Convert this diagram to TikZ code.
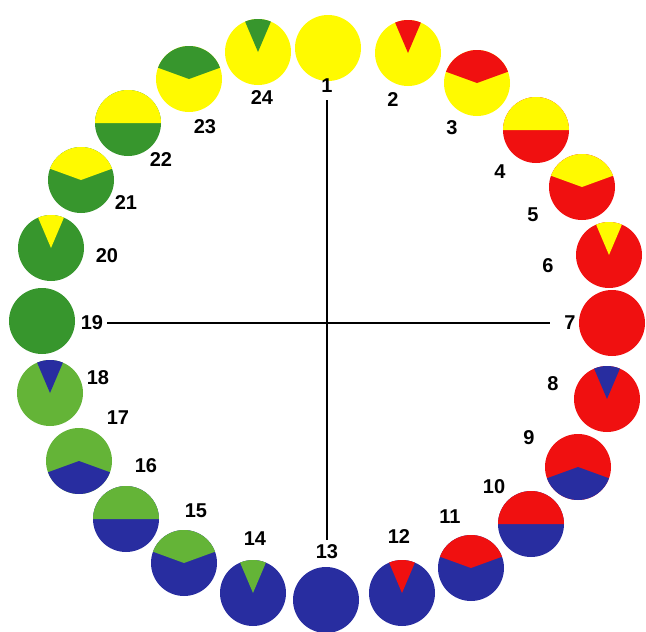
\documentclass[tikz,border=0pt]{standalone}
\usepackage{fontspec}
\setmainfont{Liberation Sans}
\usetikzlibrary{calc}
\definecolor{ylw}{RGB}{255,250,0}
\definecolor{rd}{RGB}{240,16,16}
\definecolor{grn}{RGB}{55,150,45}
\definecolor{grnlt}{RGB}{100,180,55}
\definecolor{blu}{RGB}{40,45,160}

\begin{document}
\begin{tikzpicture}[x=1pt, y=1pt,
    disc/.style={circle, minimum size=66pt, inner sep=0pt, draw=none},
    num/.style={font=\fontsize{20}{20}\selectfont\bfseries, inner sep=4pt},
    axis/.style={draw=black, line width=2.2pt},
  ]
  \useasboundingbox (0,0) rectangle (646,-632);
  % discs: name/x/y/base/sector colour/start/end/label x/label y
  \foreach \n/\x/\y/\base/\part/\a/\b/\lx/\ly in {
      1/328/48/ylw/ylw/0/0/327/86,
      2/408/53/ylw/rd/67/113/393/100,
      3/477/83/ylw/rd/20/160/452/128,
      4/536/130/rd/ylw/0/180/500/172,
      5/582/187/rd/ylw/20/160/533/215,
      6/609/255/rd/ylw/67/113/548/266,
      7/612/323/rd/rd/0/0/570/323,
      8/607/399/rd/blu/67/113/553/384,
      9/578/467/rd/blu/200/340/529/438,
      10/531/524/blu/rd/0/180/494/487,
      11/471/568/blu/rd/20/160/450/517,
      12/402/593/blu/rd/67/113/399/537,
      13/326/600/blu/blu/0/0/327/552,
      14/253/593/blu/grnlt/67/113/255/539,
      15/184/563/blu/grnlt/20/160/196/511,
      16/126/519/blu/grnlt/0/180/146/466,
      17/79/461/grnlt/blu/200/340/118/418,
      18/50/393/grnlt/blu/67/113/98/378,
      19/42/321/grn/grn/0/0/92/323,
      20/51/248/grn/ylw/67/113/107/256,
      21/81/180/grn/ylw/20/160/126/203,
      22/128/123/grn/ylw/0/180/161/160,
      23/189/79/ylw/grn/20/160/205/127,
      24/258/52/ylw/grn/67/113/262/98} {
    \node[disc, fill=\base] (c\n) at (\x,-\y) {};
    \fill[\part] (c\n.center) -- ++(\a:33) arc[start angle=\a, end angle=\b, radius=33] -- cycle;
    \node[num] (l\n) at (\lx,-\ly) {\n};
  }
  % cross
  \draw[axis, shorten <=3pt, shorten >=1pt] (l1.south) -- (l13.north);
  \draw[axis, shorten >=10pt] (l19.east) -- (l7.west);
\end{tikzpicture}
\end{document}
